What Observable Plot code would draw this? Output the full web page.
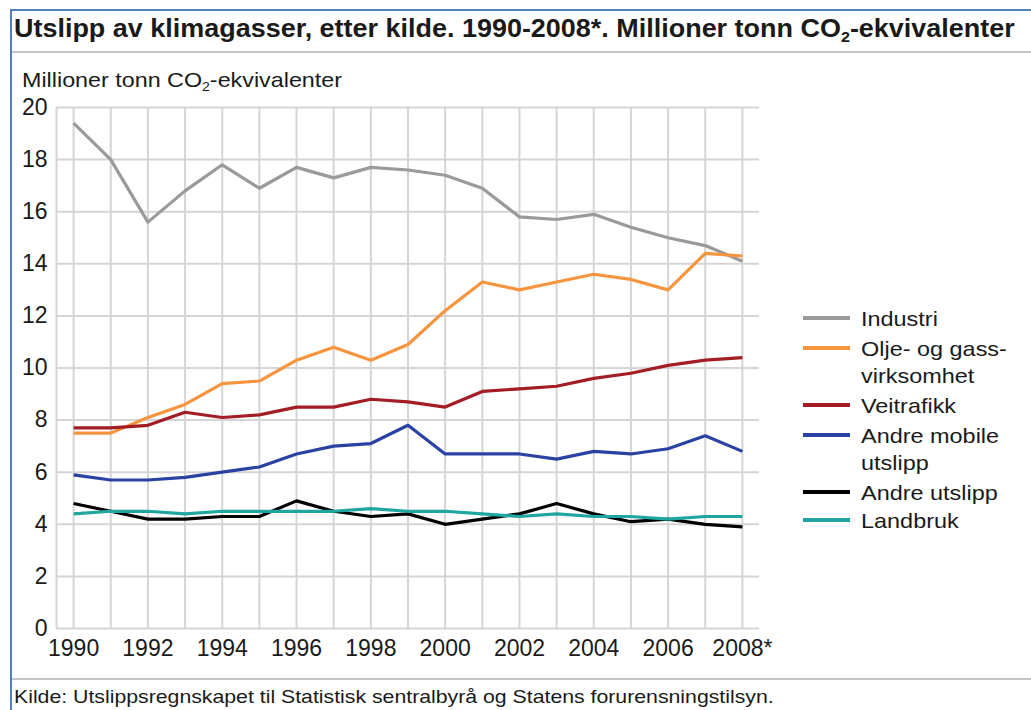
<!DOCTYPE html>
<html>
<head>
<meta charset="utf-8">
<script src="https://cdn.jsdelivr.net/npm/d3@7"></script>
<script src="https://cdn.jsdelivr.net/npm/@observablehq/plot@0.6"></script>
<style>
  html, body { margin: 0; padding: 0; background: #fff; }
  #wrap { position: relative; width: 1031px; height: 710px; overflow: hidden; font-family: "Liberation Sans", Arial, sans-serif; color: #1a1a1a; }
  .abs { position: absolute; white-space: nowrap; }
  #title { left: 14px; top: 12.9px; font-size: 25.5px; font-weight: bold; line-height: 30px; transform: scaleX(1.057); transform-origin: 0 0; }
  #subtitle { left: 22px; top: 66.7px; font-size: 21px; line-height: 26px; transform: scaleX(1.11); transform-origin: 0 0; }
  #caption { left: 14px; top: 685.6px; font-size: 18.5px; line-height: 22px; transform: scaleX(1.149); transform-origin: 0 0; }
  sub { font-size: 0.6em; vertical-align: -0.35em; line-height: 0; }
  #chart { position: absolute; left: 0; top: 95px; }
  .leg { position: absolute; left: 861px; font-size: 21px; line-height: 27px; white-space: nowrap; transform: scaleX(1.116); transform-origin: 0 0; }
  .sw { position: absolute; left: 803px; width: 47px; height: 4px; }
</style>
</head>
<body>
<div id="wrap">
  <div class="abs" style="left:10px;top:9px;width:2px;height:701px;background:#4f81bd"></div>
  <div class="abs" style="left:10px;top:9px;width:1021px;height:2px;background:#4f81bd"></div>
  <div class="abs" id="title">Utslipp av klimagasser, etter kilde. 1990-2008*. Millioner tonn CO<sub>2</sub>-ekvivalenter</div>
  <div class="abs" style="left:12px;top:51px;width:1019px;height:2px;background:#c4c4c4"></div>
  <div class="abs" id="subtitle">Millioner tonn CO<sub>2</sub>-ekvivalenter</div>
  <div id="chart"></div>
  <div id="legend"></div>
  <div class="abs" style="left:12px;top:678px;width:1019px;height:2px;background:#c4c4c4"></div>
  <div class="abs" id="caption">Kilde: Utslippsregnskapet til Statistisk sentralbyrå og Statens forurensningstilsyn.</div>
</div>
<script>
const years = [1990,1991,1992,1993,1994,1995,1996,1997,1998,1999,2000,2001,2002,2003,2004,2005,2006,2007,2008];
const xTickYears = [1990,1992,1994,1996,1998,2000,2002,2004,2006,2008];
const xTickLabels = ["1990","1992","1994","1996","1998","2000","2002","2004","2006","2008*"];
const yTicks = [0,2,4,6,8,10,12,14,16,18,20];

const seriesNames = ["Industri","Olje- og gass-virksomhet","Veitrafikk","Andre mobile utslipp","Andre utslipp","Landbruk"];
const legendLines = [["Industri"],["Olje- og gass-","virksomhet"],["Veitrafikk"],["Andre mobile","utslipp"],["Andre utslipp"],["Landbruk"]];
const seriesColors = ["#9a9a9a","#f7953f","#a31d24","#2a42a3","#000000","#1fa6a0"];

const industri     = [19.4,18.0,15.6,16.8,17.8,16.9,17.7,17.3,17.7,17.6,17.4,16.9,15.8,15.7,15.9,15.4,15.0,14.7,14.1];
const oljeGass     = [7.5,7.5,8.1,8.6,9.4,9.5,10.3,10.8,10.3,10.9,12.2,13.3,13.0,13.3,13.6,13.4,13.0,14.4,14.3];
const veitrafikk   = [7.7,7.7,7.8,8.3,8.1,8.2,8.5,8.5,8.8,8.7,8.5,9.1,9.2,9.3,9.6,9.8,10.1,10.3,10.4];
const andreMobile  = [5.9,5.7,5.7,5.8,6.0,6.2,6.7,7.0,7.1,7.8,6.7,6.7,6.7,6.5,6.8,6.7,6.9,7.4,6.8];
const andreUtslipp = [4.8,4.5,4.2,4.2,4.3,4.3,4.9,4.5,4.3,4.4,4.0,4.2,4.4,4.8,4.4,4.1,4.2,4.0,3.9];
const landbruk     = [4.4,4.5,4.5,4.4,4.5,4.5,4.5,4.5,4.6,4.5,4.5,4.4,4.3,4.4,4.3,4.3,4.2,4.3,4.3];

const seriesValues = [industri, oljeGass, veitrafikk, andreMobile, andreUtslipp, landbruk];
const data = seriesNames.flatMap((name, i) => years.map((yr, j) => ({series: name, year: yr, value: seriesValues[i][j]})));

const xDomain = [years[0] - 0.46, years[years.length - 1] + 0.46];
const gridColor = "#d5d5d8";

const chart = Plot.plot({
  width: 1031,
  height: 580,
  marginLeft: 56,
  marginRight: 272,
  marginTop: 12,
  marginBottom: 47,
  style: {fontFamily: "'Liberation Sans', Arial, sans-serif", fontSize: "23px", color: "#1a1a1a", background: "transparent"},
  x: {domain: xDomain},
  y: {domain: [0, 20]},
  color: {domain: seriesNames, range: seriesColors},
  marks: [
    Plot.gridY(yTicks, {stroke: gridColor, strokeOpacity: 1, strokeWidth: 2}),
    Plot.ruleX(years, {y1: 0, y2: 20, stroke: gridColor, strokeWidth: 2}),
    Plot.ruleX([xDomain[0]], {y1: 0, y2: 20, stroke: gridColor, strokeWidth: 2}),
    Plot.axisX({ticks: xTickYears, tickFormat: (d) => xTickLabels[xTickYears.indexOf(d)], tickSize: 0, tickPadding: 11, label: null}),
    Plot.axisY({ticks: yTicks, tickFormat: (d) => String(d), tickSize: 0, tickPadding: 9, label: null}),
    Plot.line(data, {x: "year", y: "value", z: "series", stroke: "series", strokeWidth: 3.2, strokeLinejoin: "round", strokeLinecap: "butt"})
  ]
});
document.getElementById("chart").appendChild(chart);

// Legend (HTML)
const legendTops = [318, 348, 405, 435, 492, 520];
const legend = document.getElementById("legend");
legendLines.forEach((lines, i) => {
  const sw = document.createElement("div");
  sw.className = "sw";
  sw.style.top = (legendTops[i] - 2) + "px";
  sw.style.background = seriesColors[i];
  legend.appendChild(sw);
  const t = document.createElement("div");
  t.className = "leg";
  t.style.top = (legendTops[i] - 13.5) + "px";
  t.innerHTML = lines.join("<br>");
  legend.appendChild(t);
});
</script>
</body>
</html>
